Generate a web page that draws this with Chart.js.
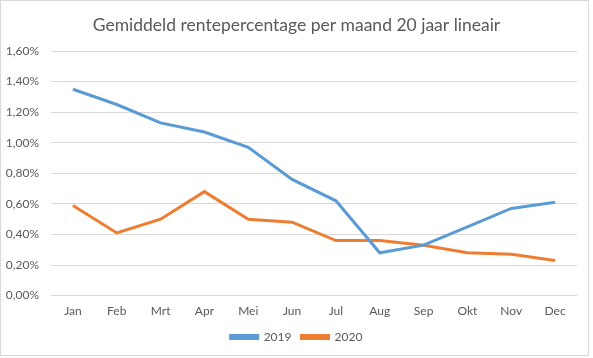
<!DOCTYPE html>
<html><head><meta charset="utf-8">
<script src="https://cdn.jsdelivr.net/npm/chart.js@4/dist/chart.umd.min.js"></script>
<style>
html,body{margin:0;padding:0;background:#fff;}
#wrap{position:relative;width:593px;height:358px;}
#frame{position:absolute;left:0;top:0;width:587px;height:354px;border:1px solid #d9d9d9;pointer-events:none;}
canvas{position:absolute;left:0;top:0;}
</style></head>
<body>
<div id="wrap"><canvas id="c" width="593" height="358"></canvas><div id="frame"></div></div>
<script>
const months = ["Jan","Feb","Mrt","Apr","Mei","Jun","Jul","Aug","Sep","Okt","Nov","Dec"];
const rate2019 = [1.35,1.25,1.13,1.07,0.97,0.76,0.62,0.28,0.33,0.45,0.57,0.61];
const rate2020 = [0.59,0.41,0.50,0.68,0.50,0.48,0.36,0.36,0.33,0.28,0.27,0.23];
const yTicks = [0,0.2,0.4,0.6,0.8,1.0,1.2,1.4,1.6];

const FONT = "Lato, 'Liberation Sans', sans-serif";
const GRAY = "#595959";

new Chart(document.getElementById("c"), {
  type: "line",
  data: {
    labels: months,
    datasets: [
      {label:"2019", data: rate2019, borderColor:"#5B9BD5", backgroundColor:"#5B9BD5", borderWidth:3, pointRadius:0, tension:0},
      {label:"2020", data: rate2020, borderColor:"#ED7D31", backgroundColor:"#ED7D31", borderWidth:3, pointRadius:0, tension:0}
    ]
  },
  options: {
    responsive:false, animation:false,
    layout:{padding:{left:0,right:0,top:6,bottom:5}},
    plugins:{
      title:{display:true, text:"Gemiddeld rentepercentage per maand 20 jaar lineair", color:GRAY,
        font:{family:FONT,size:17.5,weight:"normal"}, padding:{top:9,bottom:15}},
      legend:{position:"bottom", labels:{color:GRAY, font:{family:FONT,size:12}, boxWidth:27, boxHeight:3, padding:10}},
      tooltip:{enabled:false}
    },
    scales:{
      x:{offset:true, grid:{display:false, drawTicks:false}, border:{display:false},
        afterFit:s=>{s.height-=5;},
        ticks:{color:GRAY, font:{family:FONT,size:12}, padding:8, maxRotation:0}},
      y:{min:0,max:1.6, afterBuildTicks:s=>{s.ticks = yTicks.map(v=>({value:v}));},
        afterFit:s=>{s.width=51;},
        grid:{color:"#d9d9d9", lineWidth:1, drawTicks:false}, border:{display:false},
        ticks:{color:GRAY, font:{family:FONT,size:12}, padding:12,
          callback:v=>v.toFixed(2).replace(".",",")+"%"}},
      yR:{position:"right", min:0, max:1.6, afterFit:s=>{s.width=16;},
        grid:{display:false, drawTicks:false}, border:{display:false}, ticks:{display:false}}
    }
  }
});
</script>
</body></html>
